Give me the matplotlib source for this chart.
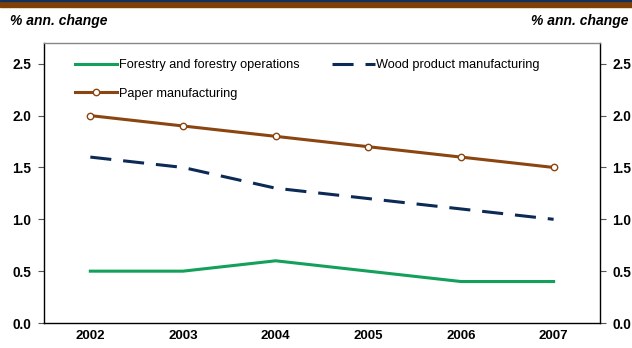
import numpy as np
import matplotlib
matplotlib.use("Agg")
import matplotlib.pyplot as plt
from matplotlib.patches import Rectangle

plt.rcParams['font.family'] = ['Liberation Sans', 'DejaVu Sans']

# Annual change by sub-sector, %
years = ['2002', '2003', '2004', '2005', '2006', '2007']
forestry = [0.5, 0.5, 0.6, 0.5, 0.4, 0.4]
wood = [1.6, 1.5, 1.3, 1.2, 1.1, 1.0]
paper = [2.0, 1.9, 1.8, 1.7, 1.6, 1.5]

green = '#13a05a'
navy = '#0c2a56'
brown = '#8a4510'

fig = plt.figure(figsize=(6.32, 3.48), dpi=100)
ax = fig.add_axes([0.0696, 0.0718, 0.8797, 0.8046])

x = np.arange(len(years))
l1, = ax.plot(x, forestry, color=green, lw=2.2, label='Forestry and forestry operations')
l2, = ax.plot(x, wood, color=navy, lw=2.2, dashes=(6.9, 3.9),
              label='Wood product manufacturing')
l3, = ax.plot(x, paper, color=brown, lw=2.2, marker='o', ms=4.6,
              mfc='white', mec=brown, mew=1.0, label='Paper manufacturing')

ax.set_xlim(-0.5, 5.5)
ax.set_ylim(0, 2.7)
ax.set_xticks(x)
ax.set_xticklabels(years, fontsize=9.5, fontweight='bold')
ax.tick_params(axis='x', length=0, pad=5)

yt = [0.0, 0.5, 1.0, 1.5, 2.0, 2.5]
ax.set_yticks(yt)
ax.set_yticklabels([f'{v:.1f}' for v in yt], fontsize=9.8, fontweight='bold')
ax.tick_params(axis='y', length=4, width=0.8, color='#555555', pad=5,
               left=True, right=True, labelleft=True, labelright=True)

for side in ['left', 'right', 'bottom']:
    ax.spines[side].set_color('black')
    ax.spines[side].set_linewidth(1.0)
ax.spines['top'].set_color('#888888')
ax.spines['top'].set_linewidth(1.0)

ax.legend(handles=[l1, l3, l2], ncol=2, loc='upper left',
          bbox_to_anchor=(0.056, 0.943), frameon=False, fontsize=9.2,
          handlelength=3.3, handletextpad=0.15, columnspacing=2.55,
          labelspacing=1.3, borderaxespad=0, borderpad=0)

fig.text(0.016, 0.94, '% ann. change', fontsize=10, fontweight='bold',
         fontstyle='italic', ha='left', va='center')
fig.text(0.995, 0.94, '% ann. change', fontsize=10, fontweight='bold',
         fontstyle='italic', ha='right', va='center')

# header band
fig.patches.append(Rectangle((0, 1 - 7 / 348), 1, 6 / 348, transform=fig.transFigure,
                             color='#7f4006', zorder=0))
fig.patches.append(Rectangle((0, 1 - 1.2 / 348), 1, 1.2 / 348, transform=fig.transFigure,
                             color='#14305e', zorder=0))

fig.savefig('out.png', dpi=100)
